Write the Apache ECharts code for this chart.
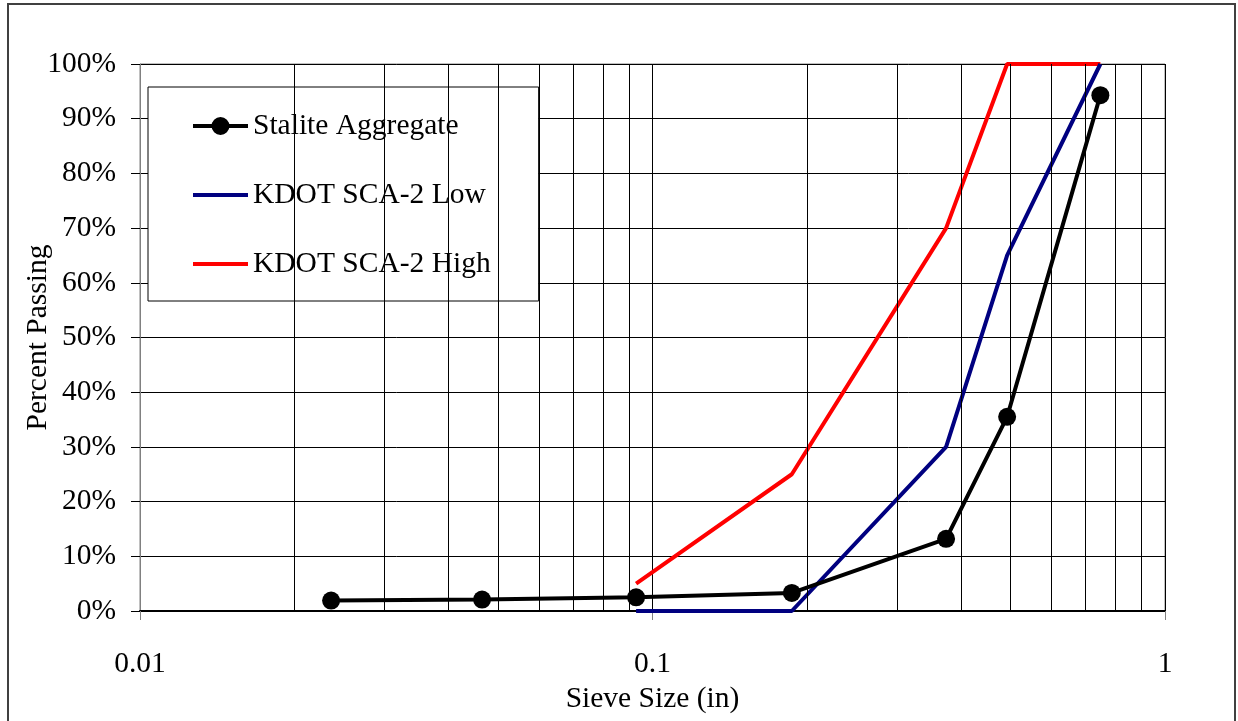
<!DOCTYPE html>
<html>
<head>
<meta charset="utf-8">
<script src="https://cdn.jsdelivr.net/npm/echarts@6/dist/echarts.min.js"></script>
<style>
html,body{margin:0;padding:0;background:#fff;}
#chart{width:1238px;height:721px;}
</style>
</head>
<body>
<div id="chart"></div>
<script>
// Sieve sizes (in)
const staliteSizes = [0.0236, 0.0465, 0.0929, 0.187, 0.374, 0.492, 0.748];
const stalitePassing = [1.9, 2.1, 2.5, 3.3, 13.2, 35.5, 94.3];
const kdotSizes = [0.0929, 0.187, 0.374, 0.492, 0.748];
const kdotLow = [0, 0, 30, 65, 100];
const kdotHigh = [5, 25, 70, 100, 100];
const minorGridX = [0.02,0.03,0.04,0.05,0.06,0.07,0.08,0.09,0.2,0.3,0.4,0.5,0.6,0.7,0.8,0.9];
const seriesNames = ['Stalite Aggregate', 'KDOT SCA-2 Low', 'KDOT SCA-2 High'];

const FONT = 'Liberation Serif';
const FS = 29.5;
const zip = (xs, ys) => xs.map((x, i) => [x, ys[i]]);

const ICON_MARKER_LINE = 'path://M0,7 L55,7 L55,11 L0,11 Z M36.5,9 A9,9 0 1 1 18.5,9 A9,9 0 1 1 36.5,9 Z';
const ICON_LINE = 'path://M0,0 L55,0 L55,4 L0,4 Z';

const chart = echarts.init(document.getElementById('chart'), null, {renderer: 'canvas'});
chart.setOption({
  animation: false,
  backgroundColor: '#fff',
  textStyle: {fontFamily: FONT, color: '#000'},
  graphic: [{
    type: 'rect', shape: {x: 8, y: 4, width: 1227, height: 740},
    style: {fill: 'none', stroke: '#404040', lineWidth: 2}, silent: true, z: -1
  }],
  grid: {left: 140, right: 73, top: 64, bottom: 110, show: true, borderColor: '#808080', borderWidth: 1, containLabel: false},
  legend: {
    orient: 'vertical', left: 148, top: 87,
    padding: [24, 48, 22, 45],
    backgroundColor: '#fff', borderColor: '#000', borderWidth: 1,
    itemWidth: 55, itemHeight: 18, itemGap: 39,
    symbolKeepAspect: true,
    textStyle: {fontFamily: FONT, fontSize: FS, color: '#000'},
    data: [
      {name: seriesNames[0], icon: ICON_MARKER_LINE},
      {name: seriesNames[1], icon: ICON_LINE},
      {name: seriesNames[2], icon: ICON_LINE}
    ]
  },
  xAxis: {
    type: 'log', logBase: 10, min: 0.01, max: 1,
    name: 'Sieve Size (in)', nameLocation: 'middle', nameGap: 73, nameMoveOverlap: false,
    nameTextStyle: {fontFamily: FONT, fontSize: FS, color: '#000'},
    axisLine: {show: true, lineStyle: {color: '#000', width: 2}},
    axisTick: {show: true, inside: false, length: 9, lineStyle: {color: '#808080'}},
    axisLabel: {fontFamily: FONT, fontSize: FS, color: '#000', margin: 38,
      formatter: v => String(Number(Number(v).toPrecision(3)))},
    splitLine: {show: true, lineStyle: {color: '#000', width: 1}},
    minorTick: {show: false}
  },
  yAxis: {
    type: 'value', min: 0, max: 100, interval: 10,
    name: 'Percent Passing', nameLocation: 'middle', nameGap: 87, nameMoveOverlap: false,
    nameTextStyle: {fontFamily: FONT, fontSize: FS, color: '#000'},
    axisLine: {show: true, lineStyle: {color: '#808080', width: 1}},
    axisTick: {show: true, inside: false, length: 9, lineStyle: {color: '#000'}},
    axisLabel: {fontFamily: FONT, fontSize: FS, color: '#000', margin: 24, formatter: '{value}%', padding: [6, 0, 0, 0]},
    splitLine: {show: true, lineStyle: {color: '#000', width: 1}}
  },
  series: [
    {
      name: 'gridlines', type: 'line', data: [], silent: true,
      markLine: {
        silent: true, symbol: 'none', label: {show: false}, animation: false,
        lineStyle: {color: '#000', width: 1, type: 'solid'},
        data: minorGridX.map(v => ({xAxis: v}))
      }
    },
    {
      name: seriesNames[2], type: 'line', data: zip(kdotSizes, kdotHigh),
      symbol: 'none', lineStyle: {color: '#FF0000', width: 4}, itemStyle: {color: '#FF0000'}, z: 3
    },
    {
      name: seriesNames[1], type: 'line', data: zip(kdotSizes, kdotLow),
      symbol: 'none', lineStyle: {color: '#000080', width: 4}, itemStyle: {color: '#000080'}, z: 4
    },
    {
      name: seriesNames[0], type: 'line', data: zip(staliteSizes, stalitePassing),
      symbol: 'circle', symbolSize: 18, showSymbol: true,
      lineStyle: {color: '#000', width: 4}, itemStyle: {color: '#000'}, z: 5
    }
  ]
});
</script>
</body>
</html>
